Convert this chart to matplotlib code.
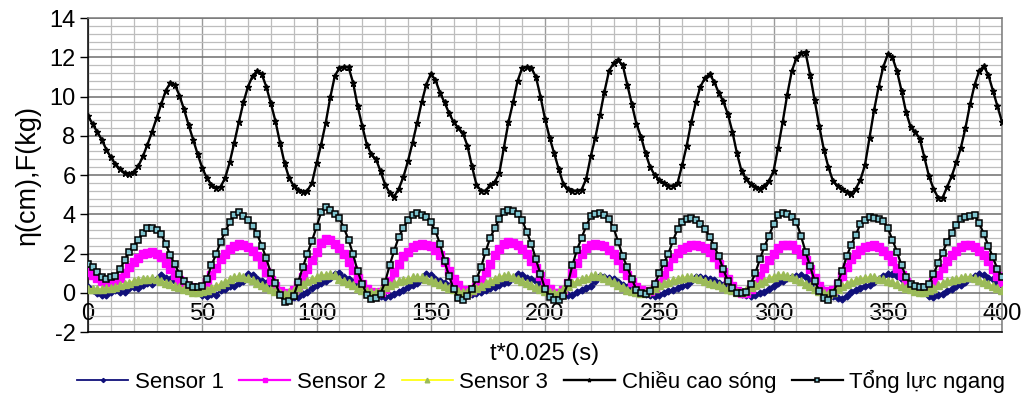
import numpy as np
import matplotlib
matplotlib.use("Agg")
import matplotlib.pyplot as plt
from matplotlib.ticker import MultipleLocator

# ---------------- data (sample step = 2) ----------------
t = list(range(0, 401, 2))

wave = [9.0, 8.6, 8.2, 7.8, 7.3, 6.9, 6.55, 6.3, 6.1, 6.05,
        6.15, 6.45, 6.95, 7.55, 8.2, 8.9, 9.6, 10.3, 10.7, 10.6,
        10.05, 9.35, 8.55, 7.8, 7.05, 6.35, 5.85, 5.5, 5.35, 5.4,
        5.85, 6.65, 7.65, 8.7, 9.7, 10.5, 11.05, 11.3, 11.15, 10.5,
        9.65, 8.75, 7.65, 6.6, 5.85, 5.45, 5.25, 5.15, 5.2, 5.6,
        6.6, 7.55, 8.65, 9.95, 11.05, 11.45, 11.5, 11.5, 10.7, 9.5,
        8.5, 7.55, 7.05, 6.8, 6.2, 5.5, 5.1, 4.9, 5.3, 5.9,
        6.7, 7.65, 8.65, 9.7, 10.6, 11.15, 10.85, 10.2, 9.7, 9.15,
        8.7, 8.4, 8.15, 7.5, 6.45, 5.5, 5.2, 5.2, 5.5, 5.65,
        6.1, 7.4, 8.7, 9.7, 10.8, 11.45, 11.5, 11.45, 11.0, 10.0,
        8.85, 7.9, 7.1, 6.3, 5.55, 5.3, 5.2, 5.2, 5.25, 5.8,
        6.95, 7.9, 9.05, 10.25, 11.3, 11.7, 11.85, 11.6, 10.6, 9.6,
        8.6, 7.95, 7.1, 6.4, 6.0, 5.75, 5.6, 5.45, 5.45, 5.6,
        6.5, 7.5, 8.7, 9.7, 10.5, 10.95, 11.15, 10.75, 10.2, 9.75,
        9.1, 8.2, 7.1, 6.2, 5.8, 5.55, 5.4, 5.3, 5.45, 5.7,
        6.2, 7.4, 8.7, 10.1, 11.3, 11.95, 12.2, 12.25, 11.1, 9.8,
        8.5, 7.3, 6.4, 5.7, 5.45, 5.3, 5.15, 5.05, 5.3, 5.75,
        6.5, 7.9, 9.3, 10.5, 11.5, 12.15, 12.0, 11.3, 10.3, 9.2,
        8.45, 8.2, 7.85, 6.9, 5.95, 5.3, 4.85, 4.85, 5.4, 5.95,
        6.65, 7.4, 8.4, 9.6, 10.6, 11.3, 11.55, 11.1, 10.3, 9.5,
        8.7]

force = [1.45, 1.3, 1.05, 0.8, 0.72, 0.78, 0.85, 1.2, 1.65, 2.1,
         2.35, 2.7, 3.05, 3.3, 3.3, 3.2, 3.0, 2.5, 1.9, 1.45,
         0.95, 0.6, 0.38, 0.3, 0.3, 0.35, 0.7, 1.4, 1.95, 2.6,
         3.1, 3.6, 3.95, 4.1, 3.9, 3.7, 3.4, 3.0, 2.4, 1.75,
         1.0, 0.5, -0.1, -0.45, -0.4, -0.15, 0.55, 1.3, 2.0, 2.65,
         3.35, 4.1, 4.35, 4.2, 4.0, 3.8, 3.3, 2.7, 1.95, 1.1,
         0.45, -0.1, -0.3, -0.25, -0.05, 0.55, 1.4, 2.15, 2.85, 3.3,
         3.7, 3.95, 4.05, 3.95, 3.85, 3.6, 3.15, 2.5, 1.6, 0.85,
         0.2, -0.25, -0.35, -0.15, 0.2, 0.7, 1.3, 2.1, 2.8, 3.3,
         3.75, 4.1, 4.2, 4.15, 4.0, 3.7, 3.1, 2.5, 1.7, 0.95,
         0.2, -0.2, -0.35, -0.35, -0.15, 0.5, 1.4, 2.2, 2.8, 3.4,
         3.9, 4.0, 4.05, 3.95, 3.75, 3.3, 2.6, 1.85, 1.3, 0.7,
         0.15, 0.0, -0.05, 0.1, 0.45, 1.0, 1.5, 2.0, 2.65, 3.25,
         3.6, 3.75, 3.8, 3.7, 3.5, 3.25, 2.85, 2.4, 1.85, 1.2,
         0.6, 0.25, -0.02, 0.0, 0.05, 0.45, 1.0, 1.7, 2.35, 2.9,
         3.5, 3.95, 4.05, 4.0, 3.85, 3.6, 2.9, 2.1, 1.35, 0.6,
         0.1, -0.25, -0.35, 0.0, 0.5, 1.1, 1.85, 2.45, 2.95, 3.5,
         3.7, 3.85, 3.8, 3.75, 3.65, 3.3, 2.7, 2.1, 1.4, 0.8,
         0.45, 0.32, 0.3, 0.3, 0.45, 0.95, 1.5, 2.05, 2.6, 3.05,
         3.45, 3.75, 3.85, 3.9, 3.95, 3.55, 3.0, 2.4, 1.8, 1.2,
         0.8]

sensor2 = [1.05, 0.9, 0.75, 0.62, 0.55, 0.55, 0.6, 0.75, 1.0, 1.3,
           1.55, 1.75, 1.95, 2.05, 2.08, 2.0, 1.8, 1.5, 1.2, 0.9,
           0.65, 0.42, 0.3, 0.22, 0.22, 0.3, 0.55, 0.88, 1.25, 1.7,
           2.0, 2.25, 2.4, 2.5, 2.45, 2.35, 2.15, 1.85, 1.45, 1.05,
           0.65, 0.35, 0.1, -0.05, -0.02, 0.15, 0.4, 0.8, 1.2, 1.65,
           2.1, 2.55, 2.72, 2.7, 2.5, 2.3, 2.0, 1.55, 1.15, 0.75,
           0.45, 0.2, 0.05, -0.03, 0.05, 0.21, 0.6, 1.05, 1.45, 1.85,
           2.1, 2.35, 2.45, 2.5, 2.45, 2.4, 2.2, 1.9, 1.55, 1.1,
           0.7, 0.38, 0.15, 0.05, 0.12, 0.3, 0.65, 1.05, 1.45, 1.9,
           2.25, 2.5, 2.58, 2.55, 2.45, 2.25, 1.95, 1.6, 1.25, 0.85,
           0.5, 0.2, -0.02, 0.0, 0.15, 0.5, 1.0, 1.5, 1.95, 2.3,
           2.45, 2.5, 2.45, 2.4, 2.2, 1.95, 1.65, 1.25, 0.9, 0.55,
           0.3, 0.12, 0.04, 0.1, 0.22, 0.5, 0.9, 1.35, 1.75, 2.05,
           2.25, 2.35, 2.42, 2.42, 2.38, 2.3, 2.1, 1.8, 1.45, 1.05,
           0.7, 0.35, 0.1, -0.02, 0.0, 0.2, 0.45, 0.85, 1.25, 1.65,
           2.0, 2.3, 2.42, 2.45, 2.42, 2.25, 2.0, 1.65, 1.2, 0.75,
           0.35, 0.08, -0.03, 0.15, 0.45, 0.85, 1.3, 1.7, 2.0, 2.2,
           2.33, 2.4, 2.42, 2.35, 2.15, 1.9, 1.6, 1.25, 0.9, 0.55,
           0.3, 0.2, 0.15, 0.15, 0.3, 0.55, 0.9, 1.25, 1.6, 1.9,
           2.15, 2.35, 2.42, 2.42, 2.35, 2.15, 1.9, 1.6, 1.2, 0.85,
           0.55]

sensor3 = [0.2, 0.2, 0.2, 0.2, 0.22, 0.25, 0.3, 0.38, 0.45, 0.52,
           0.58, 0.63, 0.68, 0.72, 0.73, 0.7, 0.62, 0.52, 0.44, 0.36,
           0.28, 0.2, 0.12, 0.06, 0.04, 0.08, 0.15, 0.25, 0.35, 0.45,
           0.55, 0.68, 0.78, 0.85, 0.82, 0.73, 0.63, 0.52, 0.4, 0.3,
           0.18, 0.08, 0.0, -0.05, 0.02, 0.12, 0.3, 0.45, 0.6, 0.7,
           0.78, 0.88, 0.93, 0.95, 0.88, 0.72, 0.6, 0.5, 0.38, 0.25,
           0.15, 0.08, 0.04, 0.05, 0.15, 0.28, 0.38, 0.48, 0.58, 0.65,
           0.72, 0.78, 0.8, 0.78, 0.7, 0.64, 0.55, 0.45, 0.35, 0.26,
           0.18, 0.1, 0.05, 0.04, 0.12, 0.25, 0.36, 0.48, 0.6, 0.72,
           0.8, 0.87, 0.88, 0.8, 0.7, 0.62, 0.5, 0.4, 0.28, 0.18,
           0.1, 0.03, 0.0, 0.05, 0.2, 0.35, 0.5, 0.6, 0.68, 0.75,
           0.83, 0.88, 0.85, 0.75, 0.65, 0.55, 0.42, 0.3, 0.16, 0.08,
           0.02, -0.02, 0.02, 0.12, 0.25, 0.38, 0.48, 0.57, 0.63, 0.7,
           0.76, 0.8, 0.78, 0.75, 0.72, 0.62, 0.52, 0.45, 0.38, 0.28,
           0.2, 0.12, 0.05, 0.05, 0.15, 0.28, 0.4, 0.5, 0.62, 0.75,
           0.82, 0.88, 0.9, 0.85, 0.8, 0.7, 0.6, 0.45, 0.32, 0.2,
           0.1, 0.0, -0.04, 0.05, 0.2, 0.35, 0.45, 0.55, 0.63, 0.7,
           0.75, 0.8, 0.78, 0.72, 0.68, 0.62, 0.55, 0.45, 0.35, 0.25,
           0.18, 0.1, 0.05, 0.04, 0.12, 0.25, 0.38, 0.48, 0.58, 0.65,
           0.7, 0.75, 0.8, 0.8, 0.75, 0.65, 0.55, 0.45, 0.35, 0.22,
           0.13]

sensor1 = [0.3, 0.15, 0.0, -0.1, -0.12, 0.05, 0.12, 0.02, 0.05, 0.22,
           0.3, 0.25, 0.42, 0.5, 0.45, 0.7, 0.88, 0.75, 0.7, 0.62,
           0.48, 0.3, 0.25, 0.12, 0.02, -0.12, -0.15, -0.05, -0.1, 0.12,
           0.2, 0.35, 0.32, 0.5, 0.62, 0.98, 0.9, 0.72, 0.62, 0.48,
           0.3, 0.1, -0.05, -0.25, -0.3, -0.22, -0.2, -0.05, 0.02, 0.25,
           0.4, 0.5, 0.58, 0.75, 0.95, 1.02, 0.8, 0.7, 0.55, 0.35,
           0.28, 0.12, 0.05, -0.05, -0.15, -0.2, -0.18, -0.05, 0.05, 0.15,
           0.3, 0.42, 0.5, 0.7, 0.95, 0.9, 0.72, 0.58, 0.5, 0.35,
           0.22, 0.1, -0.02, -0.12, -0.05, 0.0, 0.05, 0.15, 0.22, 0.3,
           0.38, 0.5, 0.55, 0.75, 0.95, 0.9, 0.75, 0.68, 0.6, 0.45,
           0.3, 0.15, 0.0, -0.05, -0.1, -0.12, -0.12, 0.05, 0.15, 0.25,
           0.35, 0.6, 0.85, 0.82, 0.75, 0.72, 0.55, 0.42, 0.3, 0.2,
           0.1, 0.02, -0.05, -0.12, -0.15, -0.1, 0.0, 0.1, 0.15, 0.25,
           0.32, 0.4, 0.62, 0.82, 0.8, 0.75, 0.72, 0.65, 0.5, 0.38,
           0.25, 0.12, 0.05, -0.05, -0.12, -0.15, -0.1, -0.02, 0.05, 0.2,
           0.35, 0.52, 0.6, 0.75, 0.82, 0.85, 0.9, 0.8, 0.62, 0.45,
           0.3, 0.12, -0.02, -0.15, -0.28, -0.3, -0.15, 0.05, 0.15, 0.25,
           0.35, 0.42, 0.55, 0.72, 0.85, 0.95, 0.98, 0.85, 0.7, 0.58,
           0.45, 0.3, 0.22, 0.05, -0.15, -0.2, -0.1, -0.05, 0.08, 0.2,
           0.32, 0.42, 0.55, 0.75, 0.85, 0.95, 0.88, 0.75, 0.68, 0.5,
           0.38]

labels = ["Sensor 1", "Sensor 2", "Sensor 3", "Chiều cao sóng", "Tổng lực ngang"]
x_ticks = [0, 50, 100, 150, 200, 250, 300, 350, 400]
y_ticks = [-2, 0, 2, 4, 6, 8, 10, 12, 14]
x_label = "t*0.025 (s)"
y_label = "η(cm),F(kg)"

# ---------------- figure ----------------
plt.rcParams['font.family'] = ['Liberation Sans', 'DejaVu Sans']
plt.rcParams['axes.unicode_minus'] = False
fig = plt.figure(figsize=(10.25, 3.96), dpi=100)
ax = fig.add_axes([0.0859, 0.1616, 0.8917, 0.7929])

# grid
ax.set_xlim(0, 400)
ax.set_ylim(-2, 14)
ax.xaxis.set_minor_locator(MultipleLocator(10))
ax.yaxis.set_minor_locator(MultipleLocator(0.4))
ax.grid(which='minor', axis='both', color='#bdbdbd', lw=0.9, zorder=0)
ax.grid(which='major', axis='y', color='#6e6e6e', lw=1.1, zorder=0)
ax.grid(which='major', axis='x', color='#9a9a9a', lw=1.0, zorder=0)
ax.set_axisbelow(True)

ax.plot(t, sensor1, color='#10107a', lw=1.3, marker='D', ms=3.5,
        mfc='#10107a', mec='#10107a', label=labels[0], zorder=3)
ax.plot(t, sensor2, color='#ff00ff', lw=1.6, marker='s', ms=5.5,
        mfc='#ff00ff', mec='#ff00ff', label=labels[1], zorder=4)
ax.plot(t, sensor3, color='#ffff00', lw=1.2, marker='^', ms=5.5,
        mfc='#9bbb59', mec='#9bbb59', label=labels[2], zorder=5)
ax.plot(t, wave, color='black', lw=1.7, marker='*', ms=4.5,
        mfc='black', mec='black', label=labels[3], zorder=6)
ax.plot(t, force, color='black', lw=1.6, marker='s', ms=4,
        mfc='#7fc4cf', mec='black', mew=1.1, label=labels[4], zorder=7)

# axes styling
ax.set_xticks(x_ticks)
ax.set_yticks(y_ticks)
ax.tick_params(axis='x', which='both', length=0, pad=-21, labelsize=17)
ax.tick_params(axis='y', which='major', length=6, width=1, direction='out',
               labelsize=17, pad=3)
ax.tick_params(axis='y', which='minor', length=0)
for side in ['top', 'right']:
    ax.spines[side].set_color('#7a7a7a')
    ax.spines[side].set_linewidth(1.1)
ax.spines['left'].set_color('black')
ax.spines['bottom'].set_color('black')
ax.spines['left'].set_linewidth(1.1)
ax.spines['bottom'].set_linewidth(1.1)

ax.set_xlabel(x_label, fontsize=17, labelpad=8)
ax.set_ylabel(y_label, fontsize=19.5, labelpad=6)

ax.legend(loc='center', bbox_to_anchor=(0.528, 0.038),
          bbox_transform=fig.transFigure, ncol=5, frameon=False,
          fontsize=16, handlelength=2.3, handletextpad=0.3, columnspacing=0.7,
          markerscale=0.6)

fig.savefig('out.png', dpi=100)
